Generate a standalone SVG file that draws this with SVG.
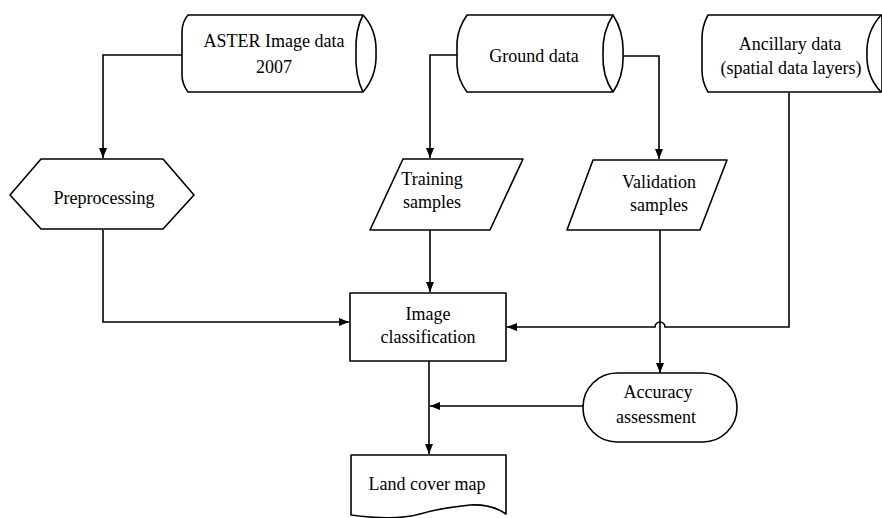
<svg xmlns="http://www.w3.org/2000/svg" width="882" height="518" viewBox="0 0 882 518">
  <style>
    .shape { fill: #ffffff; stroke: #000000; stroke-width: 1.6; stroke-linejoin: round; }
    .line { fill: none; stroke: #000000; stroke-width: 1.6; }
    .label { font-family: "Liberation Serif", "Times New Roman", serif; font-size: 18px; fill: #000000; text-anchor: middle; }
  </style>
  <defs>
    <marker id="arrow" viewBox="0 0 10 10" refX="10" refY="5" markerWidth="10" markerHeight="10" markerUnits="userSpaceOnUse" orient="auto">
      <path d="M0,1 L10,5 L0,9 Z" fill="#000000"/>
    </marker>
  </defs>

  <rect width="882" height="518" fill="#ffffff"/>

  <!-- connectors -->
  <g id="connectors">
    <!-- ASTER -> Preprocessing -->
    <path class="line" d="M182,55 H103 V158" marker-end="url(#arrow)"/>
    <!-- Ground data -> Training samples -->
    <path class="line" d="M457,55 H430 V158" marker-end="url(#arrow)"/>
    <!-- Ground data -> Validation samples -->
    <path class="line" d="M623,56 H659 V159" marker-end="url(#arrow)"/>
    <!-- Preprocessing -> Image classification -->
    <path class="line" d="M103,230 V322 H349" marker-end="url(#arrow)"/>
    <!-- Training samples -> Image classification -->
    <path class="line" d="M430,230 V292" marker-end="url(#arrow)"/>
    <!-- Ancillary data -> Image classification (hops over validation line) -->
    <path class="line" d="M789,93 V327 H665 A5,5 0 0 0 655,327 H507" marker-end="url(#arrow)"/>
    <!-- Validation samples -> Accuracy assessment -->
    <path class="line" d="M660,230 V373" marker-end="url(#arrow)"/>
    <!-- Accuracy assessment -> classification output line -->
    <path class="line" d="M583,406 H430" marker-end="url(#arrow)"/>
    <!-- Image classification -> Land cover map -->
    <path class="line" d="M429,361 V454" marker-end="url(#arrow)"/>
  </g>

  <!-- stored data: ASTER -->
  <g id="aster">
    <path class="shape" d="M188,15 H363 Q377,30 376,53 Q377,76 363,92 H188 Q182,84 182,75 V32 Q182,22 188,15 Z"/>
    <path class="line" d="M363,15 Q355,30 356,53 Q355,76 363,92"/>
    <text class="label" x="274" y="47">ASTER Image data</text>
    <text class="label" x="274" y="73">2007</text>
  </g>

  <!-- stored data: Ground -->
  <g id="ground">
    <path class="shape" d="M467,15 H613 Q624,32 623,54 Q624,76 613,92 H467 Q458,80 457,66 V42 Q458,28 467,15 Z"/>
    <path class="line" d="M613,15 Q602,32 603,54 Q602,76 613,92"/>
    <text class="label" x="534" y="62">Ground data</text>
  </g>

  <!-- stored data: Ancillary -->
  <g id="ancillary">
    <path class="shape" d="M708,15 H882 V92 H708 Q702,82 702,70 V38 Q702,26 708,15 Z"/>
    <path class="line" d="M881,15 Q866,32 867,54 Q866,76 881,92"/>
    <text class="label" x="790" y="50">Ancillary data</text>
    <text class="label" x="791" y="74">(spatial data layers)</text>
  </g>

  <!-- preparation: Preprocessing -->
  <g id="preprocessing">
    <path class="shape" d="M10,195 L41,159 H163 L194,195 L163,229 H41 Z"/>
    <text class="label" x="104" y="204">Preprocessing</text>
  </g>

  <!-- data: Training samples -->
  <g id="training">
    <path class="shape" d="M403,159 H523 L490,230 H370 Z"/>
    <text class="label" x="432" y="185">Training</text>
    <text class="label" x="432" y="208">samples</text>
  </g>

  <!-- data: Validation samples -->
  <g id="validation">
    <path class="shape" d="M593,160 H727 L700,230 H567 Z"/>
    <text class="label" x="659" y="188">Validation</text>
    <text class="label" x="659" y="211">samples</text>
  </g>

  <!-- process: Image classification -->
  <g id="classification">
    <rect class="shape" x="350" y="293" width="156" height="68"/>
    <text class="label" x="428" y="320">Image</text>
    <text class="label" x="428" y="343">classification</text>
  </g>

  <!-- terminator: Accuracy assessment -->
  <g id="accuracy">
    <rect class="shape" x="583" y="373" width="154" height="69" rx="34" ry="34"/>
    <text class="label" x="658" y="398">Accuracy</text>
    <text class="label" x="656" y="423">assessment</text>
  </g>

  <!-- document: Land cover map -->
  <g id="landcover">
    <path class="shape" d="M351,455 H506 V514 Q492,504 470,505 Q440,508 420,514 Q395,521 351,515 Z"/>
    <text class="label" x="427" y="490">Land cover map</text>
  </g>
</svg>
